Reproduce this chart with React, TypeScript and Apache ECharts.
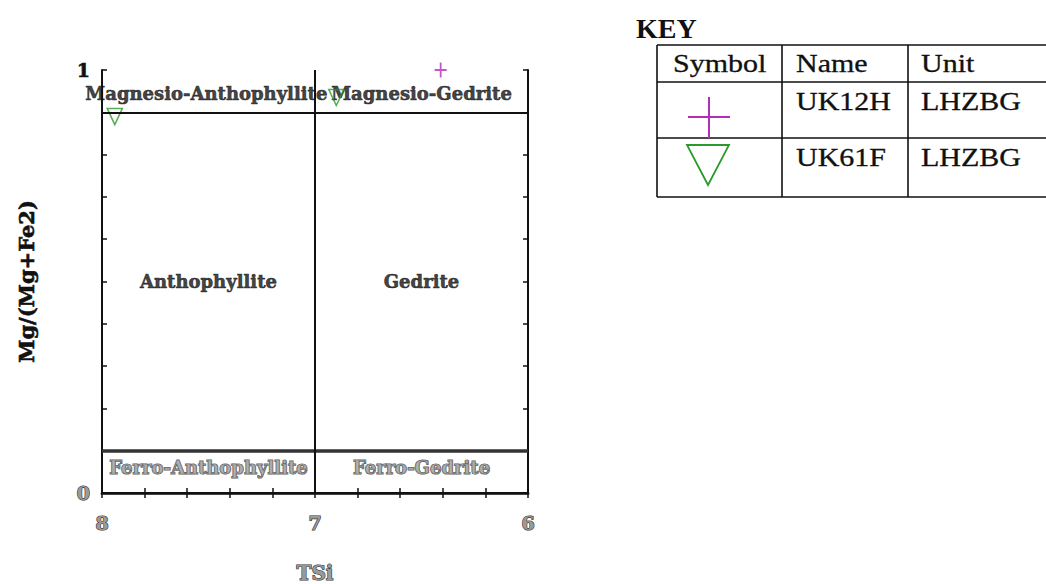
import React, { useEffect, useRef } from "react";
import * as echarts from "echarts";

// Axis extents and tick steps
const tsiMin = 6;
const tsiMax = 8;
const tsiStep = 0.2;
const mgMin = 0;
const mgMax = 1;
const mgStep = 0.1;

// Field boundaries
const boundaryMg = [0.9, 0.1];
const boundaryTsi = [7];

// Field names and their anchor points (TSi, Mg/(Mg+Fe2))
const regionNames = [
  "Magnesio-Anthophyllite",
  "Magnesio-Gedrite",
  "Anthophyllite",
  "Gedrite",
  "Ferro-Anthophyllite",
  "Ferro-Gedrite",
];
const regionTsi = [7.51, 6.5, 7.5, 6.5, 7.5, 6.5];
const regionMg = [0.945, 0.945, 0.5, 0.5, 0.06, 0.06];

// Samples
const sampleNames = ["UK12H", "UK61F"];
const sampleUnits = ["LHZBG", "LHZBG"];
const uk12hTsi = [6.41];
const uk12hMg = [1.0];
const uk61fTsi = [7.94, 6.9];
const uk61fMg = [0.89, 0.935];

const MAGENTA = "#b52db5";
const GREEN = "#2a9a2a";
const SERIF_BOLD = "DejaVu Serif";
const TABLE_FONT = "Liberation Serif";

const plusPath = "path://M5,0L5,10M0,5L10,5";
const triDownPath = "path://M0,0L12,0L6,11Z";

const isWhole = (v: number) => Math.abs(v - Math.round(v)) < 1e-6;

export default function App() {
  const ref = useRef<HTMLDivElement>(null);

  useEffect(() => {
    if (!ref.current) return;
    const chart = echarts.init(ref.current, null, { renderer: "svg" });

    const greyText = {
      color: "#9a9a9a",
      textBorderColor: "#333",
      textBorderWidth: 1.2,
    };
    const blackText = {
      color: "#111",
      textBorderColor: "#111",
      textBorderWidth: 0.6,
    };

    const tickStyle = { inside: true, length: 5, lineStyle: { color: "#111", width: 1.5 } };

    const regionData = regionNames.map((n, i) => ({
      value: [regionTsi[i], regionMg[i]],
      name: n,
      label: i >= 4 ? { ...greyText } : {},
    }));

    const tableLine = (x1: number, y1: number, x2: number, y2: number) => ({
      type: "line",
      shape: { x1, y1, x2, y2 },
      style: { stroke: "#111", lineWidth: 1.6 },
      silent: true,
    });

    const tableText = (text: string, x: number, y: number) => ({
      type: "text",
      x,
      y,
      scaleX: 1.2,
      style: {
        text,
        x: 0,
        y: 0,
        font: `25px "${TABLE_FONT}"`,
        fill: "#111",
        stroke: "#111",
        lineWidth: 0.3,
        verticalAlign: "middle",
        align: "left",
      },
    });

    const rowY = [101, 157];

    const graphic: any[] = [
      {
        type: "text",
        x: 636,
        y: 28,
        style: {
          text: "KEY",
          font: `bold 28px "${TABLE_FONT}"`,
          fill: "#111",
          verticalAlign: "middle",
        },
      },
      tableLine(657, 45, 1046, 45),
      tableLine(657, 82, 1046, 82),
      tableLine(657, 138, 1046, 138),
      tableLine(657, 197, 1046, 197),
      tableLine(657, 45, 657, 197),
      tableLine(782, 45, 782, 197),
      tableLine(908, 45, 908, 197),
      tableText("Symbol", 673, 63),
      tableText("Name", 796, 63),
      tableText("Unit", 921, 63),
      ...sampleNames.map((n, i) => tableText(n, 796, rowY[i])),
      ...sampleUnits.map((u, i) => tableText(u, 921, rowY[i])),
      // key symbols
      {
        type: "line",
        shape: { x1: 688, y1: 117, x2: 730, y2: 117 },
        style: { stroke: MAGENTA, lineWidth: 2 },
      },
      {
        type: "line",
        shape: { x1: 709, y1: 97, x2: 709, y2: 138 },
        style: { stroke: MAGENTA, lineWidth: 2 },
      },
      {
        type: "polygon",
        shape: { points: [[687, 145], [729, 145], [708, 185]] },
        style: { fill: "none", stroke: GREEN, lineWidth: 1.8 },
      },
    ];

    chart.setOption({
      animation: false,
      backgroundColor: "#ffffff",
      grid: {
        left: 102,
        top: 70,
        right: 518,
        bottom: 91,
        containLabel: false,
        outerBoundsMode: "none",
      },
      xAxis: [
        {
          type: "value",
          min: tsiMin,
          max: tsiMax,
          interval: tsiStep,
          inverse: true,
          position: "bottom",
          name: "TSi",
          nameLocation: "middle",
          nameGap: 70,
          nameTextStyle: {
            fontFamily: SERIF_BOLD,
            fontWeight: "bold",
            fontSize: 20,
            ...greyText,
          },
          axisLine: { show: true, lineStyle: { color: "#444", width: 3 } },
          axisTick: tickStyle,
          splitLine: { show: false },
          axisLabel: {
            margin: 20,
            fontFamily: SERIF_BOLD,
            fontWeight: "bold",
            fontSize: 19,
            ...greyText,
            showMinLabel: true,
            showMaxLabel: true,
            formatter: (v: number) => (isWhole(v) ? String(Math.round(v)) : ""),
          },
        },
        {
          type: "value",
          min: tsiMin,
          max: tsiMax,
          interval: tsiStep,
          inverse: true,
          position: "top",
          axisLine: { show: true, lineStyle: { color: "#111", width: 2 } },
          axisTick: tickStyle,
          splitLine: { show: false },
          axisLabel: { show: false },
        },
      ],
      yAxis: [
        {
          type: "value",
          min: mgMin,
          max: mgMax,
          interval: mgStep,
          position: "left",
          name: "Mg/(Mg+Fe2)",
          nameLocation: "middle",
          nameGap: 65,
          nameTextStyle: {
            fontFamily: SERIF_BOLD,
            fontWeight: "bold",
            fontSize: 21,
            ...blackText,
          },
          axisLine: { show: true, lineStyle: { color: "#111", width: 2 } },
          axisTick: tickStyle,
          splitLine: { show: false },
          axisLabel: {
            margin: 12,
            showMinLabel: true,
            showMaxLabel: true,
            formatter: (v: number) =>
              isWhole(v) ? (Math.round(v) === 0 ? "{g|0}" : `{b|${Math.round(v)}}`) : "",
            rich: {
              b: {
                fontFamily: SERIF_BOLD,
                fontWeight: "bold",
                fontSize: 19,
                ...blackText,
              },
              g: {
                fontFamily: SERIF_BOLD,
                fontWeight: "bold",
                fontSize: 19,
                ...greyText,
              },
            },
          },
        },
        {
          type: "value",
          min: mgMin,
          max: mgMax,
          interval: mgStep,
          position: "right",
          axisLine: { show: true, lineStyle: { color: "#111", width: 2 } },
          axisTick: tickStyle,
          splitLine: { show: false },
          axisLabel: { show: false },
        },
      ],
      series: [
        {
          type: "scatter",
          name: "fields",
          silent: true,
          symbolSize: 1,
          itemStyle: { color: "transparent" },
          data: regionData,
          label: {
            show: true,
            position: "inside",
            formatter: (p: any) => p.name,
            fontFamily: SERIF_BOLD,
            fontWeight: "bold",
            fontSize: 18,
            ...blackText,
          },
          markLine: {
            silent: true,
            symbol: ["none", "none"],
            label: { show: false },
            lineStyle: { color: "#111", width: 2, type: "solid" },
            data: [
              ...boundaryMg.map((m) => ({
                yAxis: m,
                lineStyle: m < 0.5 ? { color: "#333", width: 3.5 } : { color: "#111", width: 2 },
              })),
              ...boundaryTsi.map((t) => ({ xAxis: t })),
            ],
          },
          z: 3,
        },
        {
          type: "scatter",
          name: sampleNames[0],
          symbol: plusPath,
          symbolSize: [12, 15],
          clip: false,
          itemStyle: { color: "transparent", borderColor: MAGENTA, borderWidth: 2 },
          data: uk12hTsi.map((t, i) => [t, uk12hMg[i]]),
          z: 4,
        },
        {
          type: "scatter",
          name: sampleNames[1],
          symbol: triDownPath,
          symbolSize: [15, 16],
          clip: false,
          itemStyle: { color: "transparent", borderColor: GREEN, borderWidth: 1.6 },
          data: uk61fTsi.map((t, i) => [t, uk61fMg[i]]),
          z: 4,
        },
      ],
      graphic,
    });

    return () => chart.dispose();
  }, []);

  return (
    <div
      ref={ref}
      style={{ position: "fixed", left: 0, top: 0, width: 1046, height: 584, background: "#fff" }}
    />
  );
}
